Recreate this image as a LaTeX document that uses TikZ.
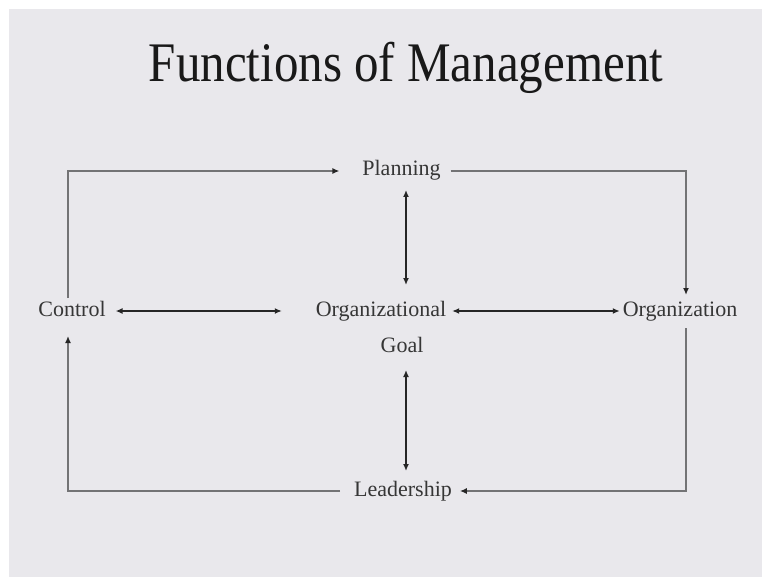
\documentclass[tikz,border=0pt]{standalone}
\usepackage{fontspec}
\setmainfont{Liberation Serif}
\usetikzlibrary{arrows.meta,calc}
\definecolor{bg}{HTML}{E9E8EC}
\definecolor{txt}{HTML}{363636}
\definecolor{loopc}{HTML}{737375}
\definecolor{inner}{HTML}{262626}
\begin{document}
\begin{tikzpicture}[x=1pt,y=-1pt,
  lbl/.style={inner sep=0pt, outer sep=0pt, anchor=base, text=txt,
    font=\fontsize{22}{24}\selectfont, text height=15pt, text depth=5pt},
  loopline/.style={draw=loopc, line width=1.7pt, arrows={-{Latex[length=7pt,width=6pt,color=inner]}}},
  dbl/.style={draw=inner, line width=1.5pt, {Latex[length=7pt,width=6pt]}-{Latex[length=7pt,width=6pt]}}]
\useasboundingbox (0,0) rectangle (762,577);
\fill[white] (0,0) rectangle (762,577);
\fill[bg] (9,9) rectangle (762,577);
\node[anchor=base, inner sep=0pt, text=black!90, font=\fontsize{49}{54}\selectfont, yscale=1.14] (title) at (406,82) {Functions of Management};
\node[lbl] (ctrl) at (72,316) {Control};
\node[lbl] (plan) at (401.5,176) {Planning};
\node[lbl] (orgl) at (381,316) {Organizational};
\node[lbl] (goal) at (402,352) {Goal};
\node[lbl] (orgn) at (680,316) {Organization};
\node[lbl] (lead) at (403,496) {Leadership};
% outer loop
\draw[loopline] ($(ctrl.north)+(-4,-3)$) |- ($(plan.west)+(-23,0)$);
\draw[loopline] ($(plan.east)+(10,0)$) -| ($(orgn.north)+(6,-6)$);
\draw[loopline] ($(orgn.south)+(6,7)$) |- ($(lead.east)+(8,0)$);
\draw[loopline] ($(lead.west)+(-14,0)$) -| ($(ctrl.south)+(-4,15)$);
% inner double arrows
\draw[dbl] ($(ctrl.east)+(10,0)$) -- ($(orgl.west)+(-34,0)$);
\draw[dbl] ($(orgl.east)+(6,0)$) -- ($(orgn.west)+(-3,0)$);
\draw[dbl] ($(plan.south)+(4.5,9)$) -- ($(plan.south)+(4.5,104)$);
\draw[dbl] ($(goal.south)+(4,13)$) -- ($(lead.north)+(3,-10)$);
\end{tikzpicture}
\end{document}
